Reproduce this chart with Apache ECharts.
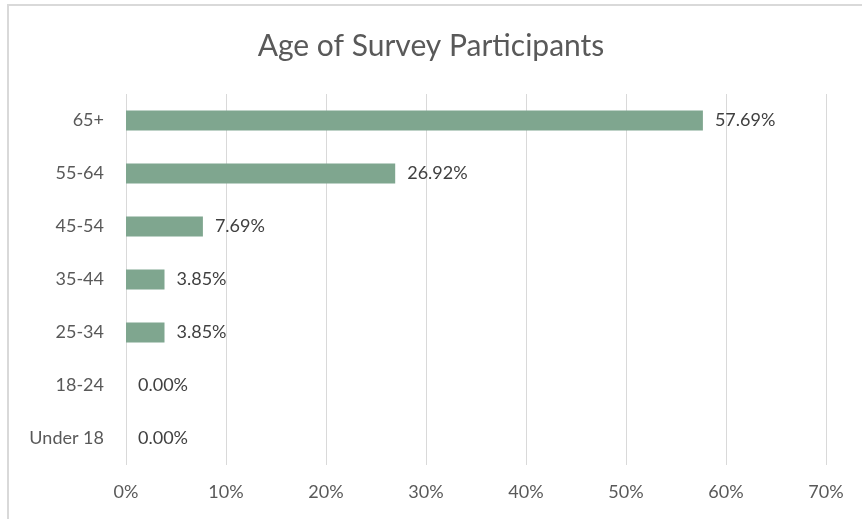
<!DOCTYPE html>
<html>
<head>
<meta charset="utf-8">
<script src="https://cdn.jsdelivr.net/npm/echarts@6/dist/echarts.min.js"></script>
<style>html,body{margin:0;padding:0;background:#fff;}#c{width:862px;height:519px;}</style>
</head>
<body>
<div id="c"></div>
<script>
const categories = ['Under 18', '18-24', '25-34', '35-44', '45-54', '55-64', '65+'];
const values = [0.00, 0.00, 3.85, 3.85, 7.69, 26.92, 57.69];
const xTicks = [0, 10, 20, 30, 40, 50, 60, 70];
const title = 'Age of Survey Participants';

const chart = echarts.init(document.getElementById('c'), null, {renderer: 'canvas'});
const font = 'Lato, "Open Sans", sans-serif';
chart.setOption({
  animation: false,
  backgroundColor: '#fff',
  graphic: [{
    type: 'rect', shape: {x: 8, y: 5, width: 900, height: 600},
    style: {fill: 'none', stroke: '#d9d9d9', lineWidth: 2}, silent: true
  }],
  title: {
    text: title, left: 'center', top: 26,
    textStyle: {fontFamily: font, fontSize: 30, fontWeight: 'normal', color: '#595959'}
  },
  grid: {left: 126, right: 36, top: 94, bottom: 54, containLabel: false},
  xAxis: {
    type: 'value', min: xTicks[0], max: xTicks[xTicks.length - 1], interval: 10,
    axisLine: {show: false}, axisTick: {show: false},
    splitLine: {lineStyle: {color: '#d9d9d9', width: 1}},
    axisLabel: {formatter: v => v + '%', color: '#595959', fontFamily: font, fontSize: 18, margin: 18}
  },
  yAxis: {
    type: 'category', data: categories,
    axisLine: {show: false}, axisTick: {show: false},
    axisLabel: {color: '#595959', fontFamily: font, fontSize: 18, margin: 22}
  },
  series: [{
    type: 'bar', data: values, barWidth: 20,
    itemStyle: {color: '#7fa68f'},
    label: {show: true, position: 'right', distance: 12, formatter: p => p.value.toFixed(2) + '%',
      color: '#404040', fontFamily: font, fontSize: 18}
  }]
});
</script>
</body>
</html>
